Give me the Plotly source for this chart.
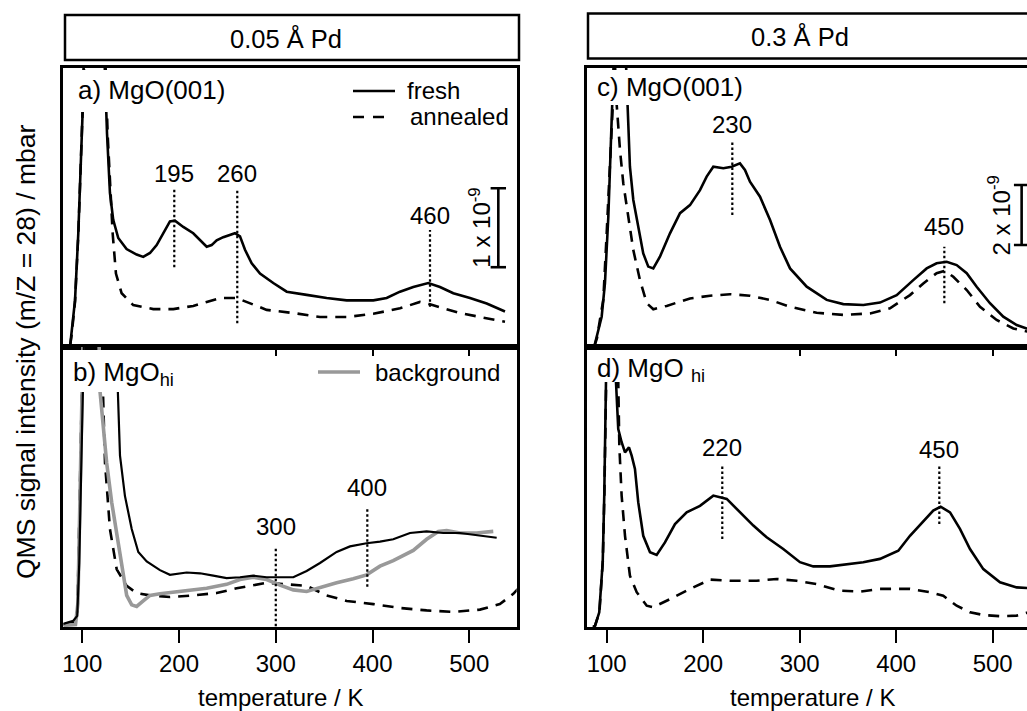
import plotly.graph_objects as go

W, H = 1027, 711
FONT = "Liberation Sans, Arial, Helvetica, sans-serif"

# ---------------- data (signal in units of 1e-9 mbar, arbitrary offset) ----------------
# panel a) 0.05 A Pd on MgO(001)
a_T_fresh = [87.5, 89.0, 92.5, 95.9, 98.3, 100.4, 104, 110, 118, 122, 125.6, 128.6, 132.0, 137.2,
             145.8, 156.2, 163.0, 170.0, 176.9, 183.7, 190.6, 195.8, 204.4, 214.7, 221.7, 228.6,
             233.7, 238.9, 245.7, 252.7, 257.8, 263.0, 268.2, 275.1, 283.7, 297.4, 311.3, 331.9,
             352.6, 373.3, 400.8, 414.6, 428.4, 442.1, 457.6, 469.7, 483.5, 500.7, 518.0, 536.9]
a_fresh = [0.02, 0.17, 0.59, 1.44, 2.28, 2.98, 5.0, 7.0, 6.0, 4.0, 2.70, 1.95, 1.61, 1.38,
           1.24, 1.17, 1.14, 1.19, 1.29, 1.44, 1.59, 1.60, 1.52, 1.44, 1.35, 1.27,
           1.29, 1.35, 1.39, 1.42, 1.44, 1.40, 1.23, 1.06, 0.93, 0.81, 0.70, 0.66,
           0.62, 0.59, 0.59, 0.62, 0.70, 0.76, 0.81, 0.76, 0.68, 0.62, 0.55, 0.45]
a_T_ann = [87.5, 89.0, 92.5, 95.9, 98.3, 100.4, 104, 110, 118, 123, 126.2, 128.6, 131.4, 134.8,
           140.7, 152.7, 173.4, 194.1, 214.7, 228.6, 242.3, 259.6, 269.9, 290.6, 318.1, 345.7,
           373.3, 400.8, 428.4, 449.0, 459.4, 473.1, 490.4, 511.0, 536.9]
a_ann = [0.02, 0.15, 0.57, 1.42, 2.26, 2.96, 5.0, 6.5, 5.5, 4.0, 2.70, 2.07, 1.44, 0.93,
         0.68, 0.53, 0.48, 0.48, 0.52, 0.57, 0.62, 0.62, 0.57, 0.47, 0.43, 0.38,
         0.38, 0.42, 0.49, 0.57, 0.54, 0.49, 0.43, 0.38, 0.32]

# panel b) 0.05 A Pd on MgO_hi
b_T_fresh = [80.4, 90.7, 94.8, 96.9, 98.7, 100.4, 105, 115, 125, 134, 139.0, 144.1, 151.1, 157.9,
             166.6, 180.3, 190.6, 207.9, 221.7, 235.4, 249.2, 263.0, 276.7, 290.6, 304.3, 318.1,
             331.9, 345.7, 362.9, 376.7, 393.9, 407.7, 421.4, 438.7, 455.9, 473.1, 490.4, 507.6, 528.3]
b_fresh = [0.04, 0.08, 0.14, 0.81, 1.87, 2.99, 5.5, 6.0, 6.0, 4.0, 2.17, 1.66, 1.24, 0.95,
           0.83, 0.72, 0.66, 0.69, 0.68, 0.65, 0.62, 0.63, 0.65, 0.63, 0.63, 0.63,
           0.71, 0.81, 0.95, 1.02, 1.06, 1.08, 1.11, 1.19, 1.21, 1.19, 1.19, 1.16, 1.13]
b_T_bg = [80.4, 88, 93, 95.5, 97.5, 99.5, 103, 110, 116, 118.3, 121.7, 125.2, 130.4, 135.6, 140.7,
          145.9, 151.1, 156.2, 163.0, 170.0, 180.3, 194.1, 207.9, 228.6, 249.2, 263.0, 276.7,
          290.6, 304.3, 318.1, 331.9, 345.7, 362.9, 380.1, 393.9, 407.7, 421.4, 442.1, 455.9,
          468.0, 476.6, 490.4, 507.6, 524.8]
b_bg = [0.02, 0.03, 0.03, 0.30, 1.50, 2.90, 5.0, 5.5, 4.5, 2.99, 2.51, 2.08, 1.58, 1.16, 0.81,
        0.40, 0.28, 0.26, 0.33, 0.40, 0.42, 0.44, 0.47, 0.49, 0.54, 0.60, 0.63,
        0.60, 0.53, 0.47, 0.45, 0.50, 0.56, 0.61, 0.66, 0.77, 0.84, 0.97, 1.11,
        1.21, 1.22, 1.19, 1.19, 1.21]
b_T_ann = [80.4, 90, 95, 97.5, 99.5, 104, 112, 119, 123.5, 128.6, 135.6, 145.9, 156.2, 170.0,
           190.6, 214.7, 238.9, 259.6, 276.7, 290.6, 311.3, 331.9, 352.6, 373.3, 400.8, 428.4,
           455.9, 483.5, 511.0, 531.6, 545.5, 550]
b_ann = [0.03, 0.05, 0.20, 1.60, 2.95, 5.0, 5.5, 4.0, 2.08, 1.24, 0.73, 0.52, 0.43, 0.40,
         0.38, 0.40, 0.43, 0.49, 0.53, 0.56, 0.54, 0.52, 0.40, 0.33, 0.29, 0.24,
         0.21, 0.19, 0.22, 0.29, 0.42, 0.48]

# panel c) 0.3 A Pd on MgO(001)
c_T_fresh = [87, 89.6, 94.8, 98.2, 101.7, 104.1, 105.8, 110, 117, 121.3, 124.1, 127.6, 132.7, 137.9,
             143.1, 148.3, 155.2, 165.6, 176.0, 186.3, 196.7, 203.6, 210.5, 220.9, 229.5, 238.1,
             243.3, 248.5, 258.9, 269.3, 279.6, 290.0, 307.3, 328.0, 345.2, 366.0, 383.2, 400.5,
             417.7, 431.6, 441.9, 452.3, 462.7, 473.1, 483.4, 497.2, 511.0, 524.9, 535.2, 545]
c_fresh = [0.0, 0.34, 1.01, 2.12, 4.34, 6.57, 8.07, 12, 12, 8.07, 6.01, 4.90, 4.01, 3.12,
           2.68, 2.62, 3.01, 3.79, 4.46, 4.73, 5.23, 5.68, 6.01, 5.96, 6.01, 6.12,
           5.90, 5.51, 5.01, 4.23, 3.34, 2.62, 2.01, 1.57, 1.43, 1.40, 1.48, 1.73,
           2.23, 2.62, 2.79, 2.84, 2.73, 2.46, 2.01, 1.46, 1.01, 0.73, 0.62, 0.55]
c_T_ann = [87, 90, 93.5, 96.5, 100.0, 103.4, 106.8, 108.5, 110.4, 113.8, 117.2, 122.4, 127.6, 134.5,
           141.5, 148.3, 162.2, 186.3, 207.1, 227.8, 248.5, 269.3, 290.0, 317.6, 345.2, 373.0,
           393.6, 414.3, 428.1, 441.9, 450.6, 459.2, 473.1, 486.9, 504.1, 521.4, 535.2, 545]
c_ann = [0.0, 0.30, 1.00, 1.57, 3.79, 6.01, 8.07, 9.5, 8.07, 6.57, 5.46, 4.34, 3.23, 2.23,
         1.46, 1.26, 1.37, 1.62, 1.71, 1.76, 1.71, 1.57, 1.34, 1.14, 1.07, 1.12,
         1.29, 1.73, 2.12, 2.46, 2.54, 2.34, 1.90, 1.34, 0.90, 0.62, 0.51, 0.45]

# panel d) 0.3 A Pd on MgO_hi
d_T_fresh = [86, 87.9, 92.3, 95.9, 97.5, 99.3, 103, 107, 109.6, 112.0, 115.5, 119.0, 123.1, 125.9,
             129.3, 132.7, 137.9, 144.9, 151.8, 160.4, 170.8, 182.9, 196.7, 210.5, 224.4, 238.1,
             252.0, 265.8, 283.0, 300.3, 314.1, 331.4, 348.7, 365.9, 383.2, 402.2, 414.3, 428.1,
             438.4, 446.1, 455.8, 466.1, 476.5, 490.3, 507.6, 524.9, 535.2, 545]
d_fresh = [0.0, 0.04, 0.49, 2.16, 4.38, 8.2, 12, 12, 8.2, 6.60, 6.16, 5.82, 5.99, 5.71,
           5.27, 4.16, 3.04, 2.49, 2.40, 2.82, 3.43, 3.82, 4.04, 4.38, 4.27, 3.82,
           3.38, 2.99, 2.60, 2.16, 2.02, 2.02, 2.10, 2.16, 2.27, 2.54, 3.04, 3.54,
           3.88, 4.01, 3.82, 3.27, 2.60, 1.93, 1.49, 1.32, 1.29, 1.28]
d_T_ann = [86, 88, 92.5, 96, 97.6, 99.5, 104, 110, 112.0, 113.1, 115.5, 119.0, 124.1, 131.1,
           141.5, 148.3, 165.6, 186.3, 207.1, 227.8, 255.4, 276.2, 296.9, 317.6, 341.8, 362.5,
           383.2, 414.3, 435.0, 448.8, 462.7, 476.5, 490.3, 507.6, 524.9, 535.2, 545]
d_ann = [0.0, 0.05, 0.50, 2.20, 4.40, 8.2, 11, 11, 8.2, 6.04, 4.38, 3.04, 1.71, 1.16,
         0.71, 0.66, 0.93, 1.27, 1.58, 1.54, 1.54, 1.60, 1.54, 1.43, 1.21, 1.18,
         1.27, 1.27, 1.16, 1.04, 0.71, 0.49, 0.40, 0.36, 0.38, 0.47, 0.50]

# peak markers: temperature of dotted line, label, dotted-line extent, label height
a_peak_T = [195.1, 260.2, 459.4]
a_peak_lbl = ["195", "260", "460"]
a_peak_lo = [1.01, 0.30, 0.51]
a_peak_hi = [2.01, 1.99, 1.48]
a_peak_txt = [2.19, 2.19, 1.66]

b_peak_T = [300.0, 394.6]
b_peak_lbl = ["300", "400"]
b_peak_lo = [0.01, 0.51]
b_peak_hi = [1.01, 1.52]
b_peak_txt = [1.27, 1.76]

c_peak_T = [230.2, 449.9]
c_peak_lbl = ["230", "450"]
c_peak_lo = [4.40, 1.46]
c_peak_hi = [6.84, 3.34]
c_peak_txt = [7.40, 4.01]

d_peak_T = [219.8, 444.7]
d_peak_lbl = ["220", "450"]
d_peak_lo = [2.93, 3.43]
d_peak_hi = [5.43, 5.38]
d_peak_txt = [6.00, 5.91]

# scale bars (1e-9 and 2e-9)
a_bar_T, a_bar_lo, a_bar_hi, a_bar_lbl = 530, 1.01, 2.01, "1 x 10<sup>-9</sup>"
c_bar_T, c_bar_lo, c_bar_hi, c_bar_lbl = 530, 3.40, 5.40, "2 x 10<sup>-9</sup>"

tick_vals = [100, 200, 300, 400, 500]
legend_labels = ["fresh", "annealed", "background"]
header_labels = ["0.05 Å Pd", "0.3 Å Pd"]
panel_labels = ["a) MgO(001)", "b) MgO<sub>hi</sub>", "c) MgO(001)", "d) MgO <sub>hi</sub>"]

# ---------------- layout geometry ----------------
def px(x):
    return x / W


def py(y):
    return 1 - y / H


XL = [px(63.3), px(516.7)]
XR = [px(586.7), 1.0]
YT = [py(347), py(68)]
YB = [py(627), py(347)]
XRANGE_L = [80.4, 549.0]
XRANGE_R = [79.3, 79.3 + (W - 586.7) / 0.965]

SOLID = dict(color="black", width=2.6)
SOLID_B = dict(color="black", width=2.2)
DASHED = dict(color="black", width=2.6, dash="11px,8px")
GREY = dict(color="#999999", width=3.6)
DOT = dict(color="black", width=2.2, dash="2.5px,2.5px")

fig = go.Figure()


def add(x, y, line, xa, ya):
    fig.add_trace(go.Scatter(x=x, y=y, mode="lines", line=line, xaxis=xa, yaxis=ya,
                             showlegend=False, hoverinfo="skip"))


add(a_T_ann, a_ann, DASHED, "x", "y")
add(a_T_fresh, a_fresh, SOLID, "x", "y")
add(b_T_ann, b_ann, DASHED, "x2", "y2")
add(b_T_bg, b_bg, GREY, "x2", "y2")
add(b_T_fresh, b_fresh, SOLID_B, "x2", "y2")
add(c_T_ann, c_ann, DASHED, "x3", "y3")
add(c_T_fresh, c_fresh, SOLID, "x3", "y3")
add(d_T_ann, d_ann, DASHED, "x4", "y4")
add(d_T_fresh, d_fresh, SOLID, "x4", "y4")

annotations = []
for Ts, lbls, los, his, txts, xa, ya in [
    (a_peak_T, a_peak_lbl, a_peak_lo, a_peak_hi, a_peak_txt, "x", "y"),
    (b_peak_T, b_peak_lbl, b_peak_lo, b_peak_hi, b_peak_txt, "x2", "y2"),
    (c_peak_T, c_peak_lbl, c_peak_lo, c_peak_hi, c_peak_txt, "x3", "y3"),
    (d_peak_T, d_peak_lbl, d_peak_lo, d_peak_hi, d_peak_txt, "x4", "y4"),
]:
    for T, lbl, lo, hi, t in zip(Ts, lbls, los, his, txts):
        add([T, T], [lo, hi], DOT, xa, ya)
        annotations.append(dict(x=T, y=t, xref=xa, yref=ya, text=lbl, showarrow=False,
                                font=dict(size=24, family=FONT, color="black"),
                                xanchor="center", yanchor="middle"))

# scale bars
for T, lo, hi, lbl, xa, ya, dx in [(a_bar_T, a_bar_lo, a_bar_hi, a_bar_lbl, "x", "y", -19),
                                   (c_bar_T, c_bar_lo, c_bar_hi, c_bar_lbl, "x3", "y3", -23)]:
    fig.add_trace(go.Scatter(x=[T, T], y=[lo, hi], mode="lines+markers", xaxis=xa, yaxis=ya,
                             line=dict(color="black", width=2.6),
                             marker=dict(symbol="line-ew", size=11,
                                         line=dict(width=2.6, color="black")),
                             showlegend=False, hoverinfo="skip"))
    annotations.append(dict(x=T + dx, y=(lo + hi) / 2 + 0.0, xref=xa, yref=ya, text=lbl,
                            showarrow=False, textangle=-90,
                            font=dict(size=24, family=FONT, color="black"),
                            xanchor="center", yanchor="middle"))

# headers
annotations.append(dict(x=px(286), y=py(38), xref="paper", yref="paper", text=header_labels[0],
                        showarrow=False, xanchor="center", yanchor="middle",
                        font=dict(size=25.5, family=FONT, color="black")))
annotations.append(dict(x=px(800), y=py(37), xref="paper", yref="paper", text=header_labels[1],
                        showarrow=False, xanchor="center", yanchor="middle",
                        font=dict(size=25.5, family=FONT, color="black")))

# panel labels
for lbl, xx, yy in zip(panel_labels, [76, 71, 595, 595], [90, 373, 87, 369]):
    annotations.append(dict(x=px(xx), y=py(yy), xref="paper", yref="paper", text=lbl,
                            showarrow=False, xanchor="left", yanchor="middle",
                            font=dict(size=26, family=FONT, color="black")))

# legend texts
for lbl, xx, yy in zip(legend_labels, [405, 408, 373], [90, 117, 372]):
    annotations.append(dict(x=px(xx), y=py(yy), xref="paper", yref="paper", text=lbl,
                            showarrow=False, xanchor="left", yanchor="middle",
                            font=dict(size=24, family=FONT, color="black")))

# axis titles
annotations.append(dict(x=px(26), y=py(352), xref="paper", yref="paper",
                        text="QMS signal intensity (m/Z = 28) / mbar", showarrow=False,
                        textangle=-90, font=dict(size=26.5, family=FONT, color="black"),
                        xanchor="center", yanchor="middle"))
for xx in [280, 812]:
    annotations.append(dict(x=px(xx), y=py(697), xref="paper", yref="paper",
                            text="temperature / K", showarrow=False,
                            font=dict(size=24, family=FONT, color="black"),
                            xanchor="center", yanchor="middle"))

shapes = []
# white label boxes hiding the desorption spikes behind the panel labels
for x0, x1, y0, y1 in [(66, 232, 70, 112), (66, 190, 350, 392), (589, 752, 70, 105),
                       (589, 722, 350, 382)]:
    shapes.append(dict(type="rect", xref="paper", yref="paper", x0=px(x0), x1=px(x1),
                       y0=py(y1), y1=py(y0), fillcolor="white", line=dict(width=0),
                       layer="above"))
# header boxes
shapes.append(dict(type="rect", xref="paper", yref="paper", x0=px(65), x1=px(519),
                   y0=py(60), y1=py(15), line=dict(color="black", width=2.5),
                   fillcolor="rgba(0,0,0,0)"))
shapes.append(dict(type="rect", xref="paper", yref="paper", x0=px(588), x1=px(1045),
                   y0=py(58.5), y1=py(13.5), line=dict(color="black", width=2.5),
                   fillcolor="rgba(0,0,0,0)"))
# legend samples
shapes.append(dict(type="line", xref="paper", yref="paper", x0=px(353), x1=px(395),
                   y0=py(91), y1=py(91), line=dict(color="black", width=2.6)))
shapes.append(dict(type="line", xref="paper", yref="paper", x0=px(353), x1=px(385),
                   y0=py(117), y1=py(117), line=dict(color="black", width=2.6, dash="11px,9px")))
shapes.append(dict(type="line", xref="paper", yref="paper", x0=px(318), x1=px(360),
                   y0=py(372), y1=py(372), line=dict(color="#999999", width=3.6)))

AX = dict(showgrid=False, zeroline=False, showline=True, linecolor="black", linewidth=2.5,
          tickcolor="black", tickwidth=2.2, tickvals=tick_vals)
YAX = dict(showgrid=False, zeroline=False, showline=True, linecolor="black", linewidth=2.5,
           showticklabels=False, ticks="")
TICKFONT = dict(size=24, family=FONT, color="black")

fig.update_layout(
    width=W, height=H, autosize=False,
    margin=dict(l=0, r=0, t=0, b=0, pad=0),
    paper_bgcolor="white", plot_bgcolor="white",
    showlegend=False,
    xaxis=dict(AX, domain=XL, range=XRANGE_L, anchor="y", mirror=True, ticks="outside",
               ticklen=6, showticklabels=False),
    xaxis2=dict(AX, domain=XL, range=XRANGE_L, anchor="y2", mirror=True, ticks="outside",
                ticklen=13, tickfont=TICKFONT),
    xaxis3=dict(AX, domain=XR, range=XRANGE_R, anchor="y3", mirror=True, ticks="outside",
                ticklen=6, showticklabels=False),
    xaxis4=dict(AX, domain=XR, range=XRANGE_R, anchor="y4", mirror=True, ticks="outside",
                ticklen=13, tickfont=TICKFONT),
    xaxis5=dict(AX, range=XRANGE_L, overlaying="x", anchor="y", side="bottom", showline=False,
                ticks="inside", ticklen=5, showticklabels=False),
    xaxis6=dict(AX, range=XRANGE_R, overlaying="x3", anchor="y3", side="bottom", showline=False,
                ticks="inside", ticklen=5, showticklabels=False),
    yaxis=dict(YAX, domain=YT, range=[0, 279 / 79], anchor="x", mirror=True),
    yaxis2=dict(YAX, domain=YB, range=[0, 280 / 79], anchor="x2", mirror=True),
    yaxis3=dict(YAX, domain=YT, range=[0, 279 / 30], anchor="x3", mirror=False),
    yaxis4=dict(YAX, domain=YB, range=[0, 280 / 30], anchor="x4", mirror=False),
    annotations=annotations,
    shapes=shapes,
)

fig.write_html("out.html")
